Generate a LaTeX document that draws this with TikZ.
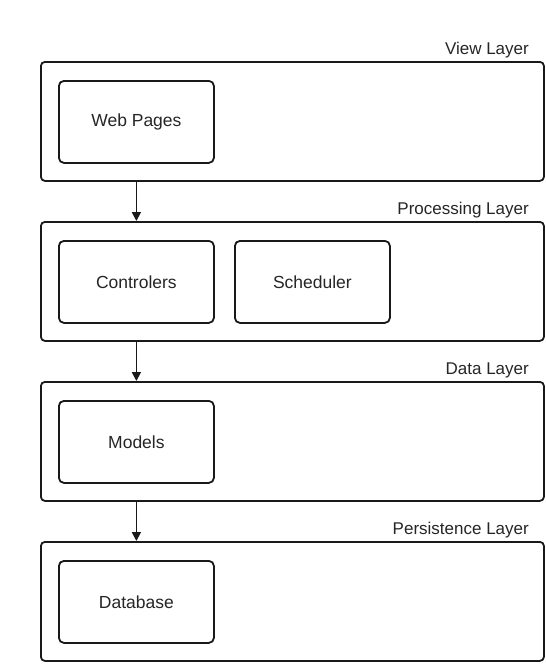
\documentclass[tikz,border=0pt]{standalone}
\usepackage{fontspec}
\setmainfont{Liberation Sans}
\usetikzlibrary{arrows.meta}
\begin{document}
\begin{tikzpicture}[x=1pt,y=-1pt,
  layerbox/.style={draw=black!90, line width=1.8pt, rounded corners=4pt, minimum width=503pt, minimum height=119pt, anchor=north west, inner sep=0pt},
  compbox/.style={draw=black!90, line width=1.8pt, rounded corners=5pt, minimum width=155pt, minimum height=82pt, anchor=north west, inner sep=0pt, font=\fontsize{17.5}{20}\selectfont, text=black!85},
  layerlabel/.style={anchor=east, inner sep=0pt, font=\fontsize{17}{20}\selectfont, text=black!85},
  flow/.style={draw=black!90, line width=1.8pt, -{Triangle[width=9pt,length=9pt]}}]
\useasboundingbox (0,0) rectangle (546,665);
\fill[white] (0,0) rectangle (546,665);
% layers
\node[layerbox] (view) at (40,61) {};
\node[layerbox] (proc) at (40,221) {};
\node[layerbox] (data) at (40,381) {};
\node[layerbox] (pers) at (40,541) {};
% labels
\node[layerlabel] (lview) at (529,50) {View Layer};
\node[layerlabel] (lproc) at (529,210) {Processing Layer};
\node[layerlabel] (ldata) at (529,370) {Data Layer};
\node[layerlabel] (lpers) at (529,530) {Persistence Layer};
% components
\node[compbox] (web) at (58,80) {Web Pages};
\node[compbox] (ctrl) at (58,240) {Controlers};
\node[compbox] (sched) at (234,240) {Scheduler};
\node[compbox] (models) at (58,400) {Models};
\node[compbox] (db) at (58,560) {Database};
% arrows
\draw[flow] (view.south west -| web.south) -- (proc.north west -| web.south);
\draw[flow] (proc.south west -| ctrl.south) -- (data.north west -| ctrl.south);
\draw[flow] (data.south west -| models.south) -- (pers.north west -| models.south);
\end{tikzpicture}
\end{document}
